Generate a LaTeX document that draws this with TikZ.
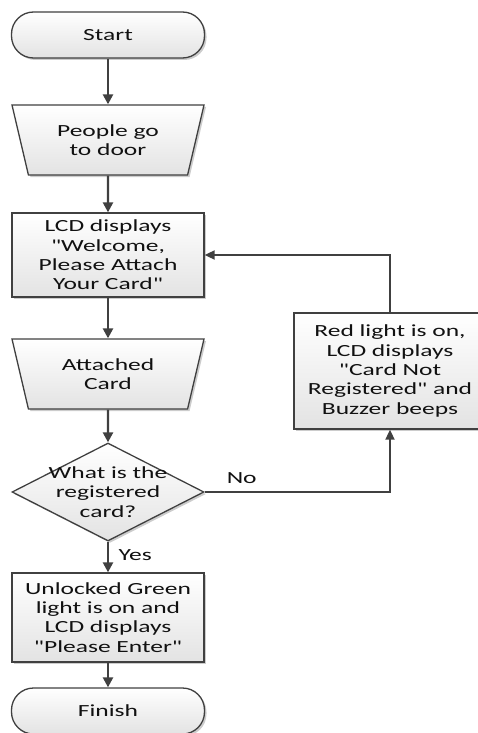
\documentclass[tikz,border=0pt]{standalone}
\usepackage{fontspec}
\setmainfont{Carlito}[FakeStretch=1.5, Ligatures=TeXOff]
\usetikzlibrary{arrows.meta,shapes.geometric,shadows}
\usepackage{xcolor}
\definecolor{flowline}{HTML}{404040}
\definecolor{flowtext}{HTML}{111111}

\begin{document}
\begin{tikzpicture}[x=1pt, y=-1pt,
    font=\fontsize{17}{19.3}\selectfont, text=flowtext,
    shadebox/.style={draw=flowline, line width=1.3pt, align=center,
      top color=white, bottom color=black!11, inner sep=2pt,
      drop shadow={shadow xshift=2pt, shadow yshift=-2pt, opacity=0.2, fill=black}},
    term/.style={shadebox, rounded corners=22pt, minimum width=193pt, minimum height=46pt},
    stepbox/.style={shadebox, minimum width=192pt},
    io/.style={shadebox, trapezium, shape border rotate=180,
      trapezium left angle=65, trapezium right angle=65, trapezium stretches body,
      minimum width=192pt, minimum height=70pt},
    decision/.style={shadebox, diamond, inner sep=0pt, minimum width=192pt, minimum height=98pt},
    flow/.style={-{Triangle[length=10pt, width=10pt]}, line width=2.4pt, draw=flowline},
    loop/.style={-{Triangle[length=10pt, width=9pt]}, line width=1.8pt, draw=flowline}
  ]
    \useasboundingbox (0,0) rectangle (478,733);

    \node[term] (start) at (108,35) {Start};
    \node[io] (door) at (108,140) {People go\\to door};
    \node[stepbox, minimum height=84pt] (welcome) at (108,255) {LCD displays\\"Welcome,\\Please Attach\\Your Card"};
    \node[io] (attached) at (108,374) {Attached\\Card};
    \node[decision, label={[align=center, text=flowtext]center:What is the\\registered\\card?}] (check) at (108,492) {};
    \node[stepbox, minimum height=89pt] (unlock) at (108,617.5) {Unlocked Green\\light is on and\\LCD displays\\"Please Enter"};
    \node[term] (finish) at (108,711) {Finish};
    \node[stepbox, minimum height=116pt] (reject) at (390,371) {Red light is on,\\LCD displays\\"Card Not\\Registered" and\\Buzzer beeps};

    \draw[flow] (start) -- (door);
    \draw[flow] (door) -- (welcome);
    \draw[flow] (welcome) -- (attached);
    \draw[flow] (attached) -- (check);
    \draw[flow] (check) -- node[right=6pt, pos=0.45] (yes) {Yes} (unlock);
    \draw[flow] (unlock) -- (finish);
    \draw[loop] (check.east) -- node[above=4pt, pos=0.2] (no) {No} (check.east -| reject.south) -- (reject.south);
    \draw[loop] (reject.north) |- (welcome.east);
  \end{tikzpicture}
\end{document}
